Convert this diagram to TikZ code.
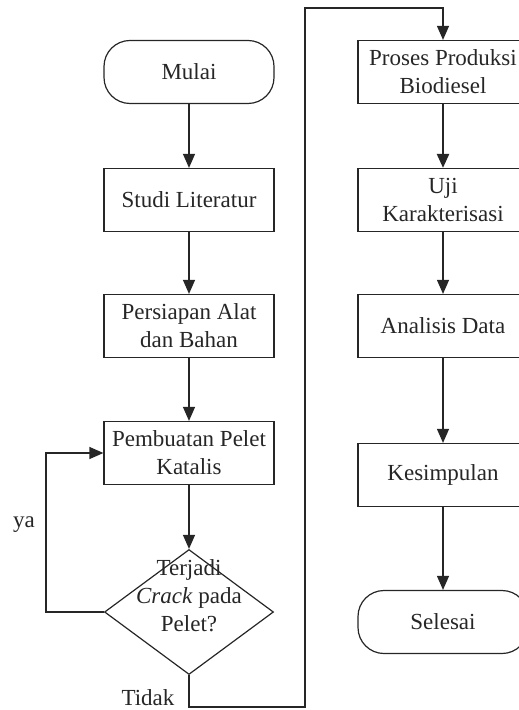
\documentclass[tikz,border=0pt]{standalone}
\usepackage{fontspec}
\setmainfont{Liberation Serif}
\usetikzlibrary{calc}
\usetikzlibrary{positioning}
\usetikzlibrary{arrows.meta}
\usetikzlibrary{shapes.geometric}

\tikzset{
  proses/.style={draw, rectangle, minimum width=85pt, minimum height=31.5pt, inner sep=0pt, align=center},
  terminal/.style={proses, rounded corners=13pt},
  keputusan/.style={draw, diamond, minimum width=84.5pt, minimum height=62.5pt, inner sep=0pt},
  panah/.style={-{Triangle[length=7pt,width=6pt]}},
}

\begin{document}
\begin{tikzpicture}[x=0.5pt,y=-0.5pt,line width=0.6pt,color=black!85,font=\fontsize{11.5}{14}\selectfont]
      \useasboundingbox (0,0) rectangle (518,710);
      % kolom kiri
      \node[terminal] (mulai) at (189,72) {Mulai};
      \node[proses] (studi) at (189,200) {Studi Literatur};
      \node[proses] (persiapan) at (189,326) {Persiapan Alat\\dan Bahan};
      \node[proses] (pelet) at (189,453) {Pembuatan Pelet\\Katalis};
      \node[keputusan] (crack) at (189,612) {};
      \node[align=center,inner sep=0pt] (crackteks) at (189,596) {Terjadi\\\textit{Crack} pada\\Pelet?};
      % kolom kanan
      \node[proses] (produksi) at (443,72) {Proses Produksi\\Biodiesel};
      \node[proses] (uji) at (443,200) {Uji\\Karakterisasi};
      \node[proses] (analisis) at (443,326) {Analisis Data};
      \node[proses] (kesimpulan) at (443,475) {Kesimpulan};
      \node[terminal] (selesai) at (443,622) {Selesai};
      % label
      \node (ya) at (24,525) {ya};
      \node (tidak) at (148,698) {Tidak};
      \coordinate (belok) at (305,707);
      \coordinate (atas) at (305,8);
      % panah
      \draw[panah] (mulai) -- (studi);
      \draw[panah] (studi) -- (persiapan);
      \draw[panah] (persiapan) -- (pelet);
      \draw[panah] (pelet) -- (crack.north);
      \draw[panah] (crack.west) -- ++(-58,0) |- (pelet.west);
      \draw[panah] (crack.south) |- (belok) -- (atas) -| (produksi.north);
      \draw[panah,line width=1.2pt] (produksi) -- (uji);
      \draw[panah] (uji) -- (analisis);
      \draw[panah] (analisis) -- (kesimpulan);
      \draw[panah] (kesimpulan) -- (selesai);
    \end{tikzpicture}
\end{document}
